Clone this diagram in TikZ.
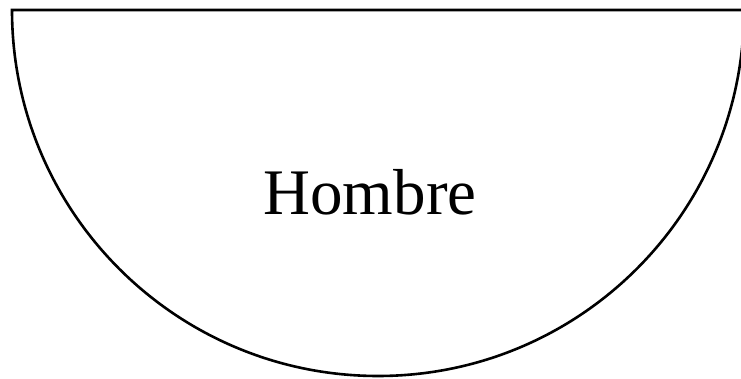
\documentclass[tikz,border=0pt]{standalone}
\usepackage{fontspec}
\setmainfont{Liberation Serif}
\usepackage{tikz}
\tikzset{halfdisc/.style={draw=black, line width=2.6pt, fill=white}}
\begin{document}
\begin{tikzpicture}[x=1pt, y=1pt]
  % frame of the picture, right side cut off as in the reference
  \useasboundingbox (0,0) rectangle (741,379);
  \clip (0,0) rectangle (741,379);
  % lower half of a disc with its flat side on top
  \draw[halfdisc] (12,369) arc (180:360:366) -- cycle;
  \node (hombre) at (370,187) {\fontsize{65}{72}\selectfont Hombre};
\end{tikzpicture}
\end{document}
